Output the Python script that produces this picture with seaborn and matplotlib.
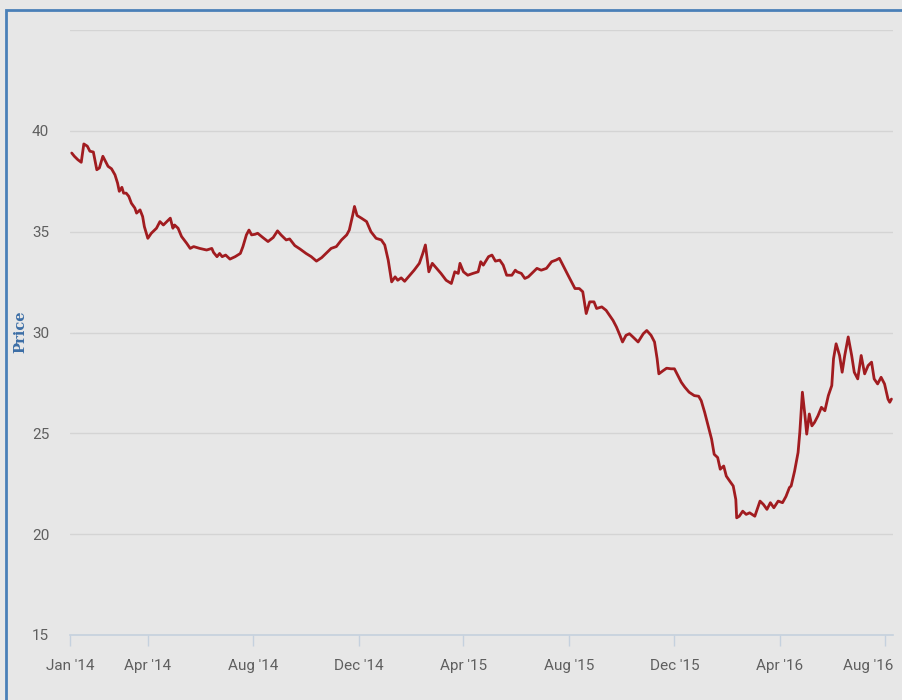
import matplotlib
matplotlib.use("Agg")
import matplotlib.pyplot as plt
import matplotlib.transforms as mtransforms
from matplotlib.patches import Rectangle
import seaborn as sns
import pandas as pd
from datetime import datetime

# ---------------- data ----------------
dates_2014 = ["2014-01-03","2014-01-06","2014-01-10","2014-01-14","2014-01-17","2014-01-21","2014-01-24","2014-01-28",
              "2014-02-01","2014-02-04","2014-02-08","2014-02-11","2014-02-14","2014-02-18","2014-02-22","2014-02-25","2014-02-27",
              "2014-03-02","2014-03-04","2014-03-07","2014-03-10","2014-03-13","2014-03-17","2014-03-19","2014-03-23","2014-03-26","2014-03-28",
              "2014-04-01","2014-04-05","2014-04-11","2014-04-15","2014-04-19","2014-04-23","2014-04-27","2014-04-30",
              "2014-05-02","2014-05-06","2014-05-10","2014-05-16","2014-05-20","2014-05-24","2014-05-31",
              "2014-06-08","2014-06-14","2014-06-16","2014-06-20","2014-06-23","2014-06-26","2014-06-30",
              "2014-07-05","2014-07-11","2014-07-17","2014-07-20","2014-07-24","2014-07-27","2014-07-30",
              "2014-08-03","2014-08-06","2014-08-12","2014-08-18","2014-08-24","2014-08-29",
              "2014-09-02","2014-09-08","2014-09-12","2014-09-18","2014-09-24",
              "2014-10-01","2014-10-07","2014-10-13","2014-10-19","2014-10-24","2014-10-30",
              "2014-11-05","2014-11-11","2014-11-17","2014-11-20","2014-11-24","2014-11-26","2014-11-29",
              "2014-12-04","2014-12-10","2014-12-15","2014-12-21","2014-12-27","2014-12-31"]
price_2014 = [38.90,38.74,38.57,38.44,39.35,39.24,38.99,38.95,
              38.07,38.16,38.74,38.49,38.24,38.12,37.82,37.41,37.00,
              37.20,36.91,36.91,36.75,36.41,36.17,35.92,36.08,35.75,35.25,
              34.67,34.92,35.17,35.50,35.33,35.50,35.67,35.17,
              35.33,35.17,34.76,34.42,34.17,34.26,34.17,
              34.09,34.17,33.97,33.76,33.92,33.76,33.84,
              33.64,33.76,33.92,34.26,34.84,35.08,34.84,
              34.87,34.92,34.71,34.51,34.71,35.04,
              34.84,34.59,34.64,34.31,34.14,
              33.92,33.76,33.54,33.71,33.92,34.17,
              34.26,34.59,34.84,35.08,35.83,36.25,35.80,
              35.67,35.50,35.00,34.67,34.59,34.34]

dates_2015 = ["2015-01-04","2015-01-08","2015-01-12","2015-01-15","2015-01-19","2015-01-23","2015-01-29",
              "2015-02-03","2015-02-09","2015-02-13","2015-02-16","2015-02-20","2015-02-24",
              "2015-03-01","2015-03-06","2015-03-12","2015-03-18","2015-03-22","2015-03-26","2015-03-28",
              "2015-04-01","2015-04-06","2015-04-12","2015-04-18","2015-04-21","2015-04-24","2015-04-30",
              "2015-05-04","2015-05-08","2015-05-13","2015-05-17","2015-05-21","2015-05-27","2015-05-31",
              "2015-06-02","2015-06-07","2015-06-11","2015-06-15","2015-06-21","2015-06-25","2015-06-30",
              "2015-07-06","2015-07-12","2015-07-17","2015-07-21","2015-07-25","2015-07-31",
              "2015-08-04","2015-08-08","2015-08-13","2015-08-17","2015-08-21","2015-08-25","2015-08-30",
              "2015-09-02","2015-09-08","2015-09-13","2015-09-17","2015-09-21","2015-09-25","2015-09-29",
              "2015-10-02","2015-10-06","2015-10-10","2015-10-14","2015-10-20","2015-10-26","2015-10-30",
              "2015-11-04","2015-11-08","2015-11-11","2015-11-13","2015-11-18","2015-11-22","2015-11-27",
              "2015-12-01","2015-12-05","2015-12-09","2015-12-13","2015-12-18","2015-12-24","2015-12-29"]
price_2015 = [33.59,32.51,32.76,32.59,32.71,32.54,32.84,
              33.09,33.43,33.92,34.34,33.01,33.43,
              33.18,32.93,32.59,32.43,33.01,32.93,33.43,
              33.01,32.84,32.93,33.01,33.51,33.34,33.76,
              33.84,33.54,33.59,33.34,32.84,32.84,33.09,
              33.01,32.93,32.68,32.76,33.01,33.18,33.09,
              33.18,33.51,33.59,33.68,33.34,32.84,
              32.51,32.18,32.18,32.02,30.94,31.52,31.52,
              31.19,31.27,31.10,30.85,30.60,30.27,29.86,
              29.53,29.86,29.94,29.78,29.53,29.94,30.10,
              29.86,29.53,28.70,27.95,28.11,28.23,28.20,
              28.20,27.86,27.53,27.29,27.04,26.87,26.84]

dates_2016 = ["2016-01-01","2016-01-05","2016-01-09","2016-01-13","2016-01-16","2016-01-20","2016-01-23","2016-01-27","2016-01-30",
              "2016-02-03","2016-02-07","2016-02-10","2016-02-11","2016-02-14","2016-02-18","2016-02-22","2016-02-26",
              "2016-03-03","2016-03-09","2016-03-13","2016-03-17","2016-03-21","2016-03-25","2016-03-30",
              "2016-04-04","2016-04-08","2016-04-12","2016-04-14","2016-04-18","2016-04-22","2016-04-24","2016-04-27","2016-04-30",
              "2016-05-02","2016-05-05","2016-05-08","2016-05-11","2016-05-15","2016-05-19","2016-05-23","2016-05-27","2016-05-31",
              "2016-06-02","2016-06-05","2016-06-09","2016-06-12","2016-06-15","2016-06-19","2016-06-23","2016-06-26","2016-06-30",
              "2016-07-04","2016-07-08","2016-07-12","2016-07-16","2016-07-19","2016-07-23","2016-07-27","2016-07-31",
              "2016-08-04","2016-08-06","2016-08-08"]
price_2016 = [26.62,26.04,25.37,24.71,23.96,23.80,23.22,23.38,22.88,
              22.63,22.39,21.72,20.81,20.89,21.14,20.98,21.06,
              20.89,21.64,21.47,21.23,21.56,21.31,21.64,
              21.56,21.87,22.31,22.39,23.13,24.05,25.04,27.04,25.87,
              24.96,25.96,25.37,25.54,25.87,26.29,26.12,26.87,27.37,
              28.70,29.44,28.86,28.03,28.86,29.78,28.86,28.03,27.70,
              28.86,27.95,28.36,28.53,27.70,27.45,27.78,27.45,
              26.70,26.54,26.70]

y_ticks = [15, 20, 25, 30, 35, 40, 45]
y_tick_labels = ["15", "20", "25", "30", "35", "40", ""]
x_tick_dates = ["2014-01-01", "2014-04-01", "2014-08-01", "2014-12-01", "2015-04-01",
                "2015-08-01", "2015-12-01", "2016-04-01", "2016-08-01"]
x_tick_labels = ["Jan '14", "Apr '14", "Aug '14", "Dec '14", "Apr '15",
                 "Aug '15", "Dec '15", "Apr '16", "Aug '16"]

df = pd.DataFrame({
    "date": pd.to_datetime(dates_2014 + dates_2015 + dates_2016),
    "price": price_2014 + price_2015 + price_2016,
})

# ---------------- style ----------------
BG = "#e7e7e7"
AXIS_C = "#c5d1de"
sns.set_theme(style="white")
plt.rcParams["font.family"] = ["Roboto", "DejaVu Sans"]

fig = plt.figure(figsize=(9.03, 7.0), dpi=100, facecolor=BG)
ax = fig.add_axes([70/903, 65/700, 823/903, 605/700])
ax.set_facecolor(BG)

sns.lineplot(data=df, x="date", y="price", ax=ax, color="#a11c20", linewidth=2.0)

ax.set_ylim(15, 45)
ax.set_xlim(datetime(2014, 1, 1), datetime(2016, 8, 9, 19))
ax.set_yticks(y_ticks)
ax.set_yticklabels(y_tick_labels)
ax.set_xticks(pd.to_datetime(x_tick_dates))
ax.set_xticklabels(x_tick_labels)

ax.grid(axis="y", color="#d4d4d4", linewidth=1.0)
ax.grid(axis="x", visible=False)
ax.set_axisbelow(True)
for s in ["left", "right", "top"]:
    ax.spines[s].set_visible(False)
ax.spines["bottom"].set_visible(True)
ax.spines["bottom"].set_color(AXIS_C)
ax.spines["bottom"].set_linewidth(1.2)
ax.spines["bottom"].set_zorder(3)

ax.tick_params(axis="y", left=False, length=0, pad=15, labelsize=11, labelcolor="#5f5f5f")
ax.tick_params(axis="x", bottom=True, length=8, width=1, color=AXIS_C, direction="out",
               pad=9, labelsize=11, labelcolor="#5f5f5f")
ax.set_xlabel("")
ax.set_ylabel("")

# last label shifted to stay inside the plot, like the original
last = ax.get_xticklabels()[-1]
last.set_horizontalalignment("right")
last.set_transform(last.get_transform() + mtransforms.ScaledTranslation(8/100, 0, fig.dpi_scale_trans))

fig.text(20/903, (700-332)/700, "Price", rotation=90, ha="center", va="center",
         fontsize=10.5, fontweight="bold", color="#3c6ea6", family=["DejaVu Serif"])

# blue frame along the left and top edge
fig.patches.append(Rectangle((6/903, -0.1), 1.2, (690/700) + 0.1, transform=fig.transFigure,
                             fill=False, edgecolor="#4a80b8", linewidth=2.0, zorder=10))

fig.savefig("out.png", dpi=100, facecolor=BG)
